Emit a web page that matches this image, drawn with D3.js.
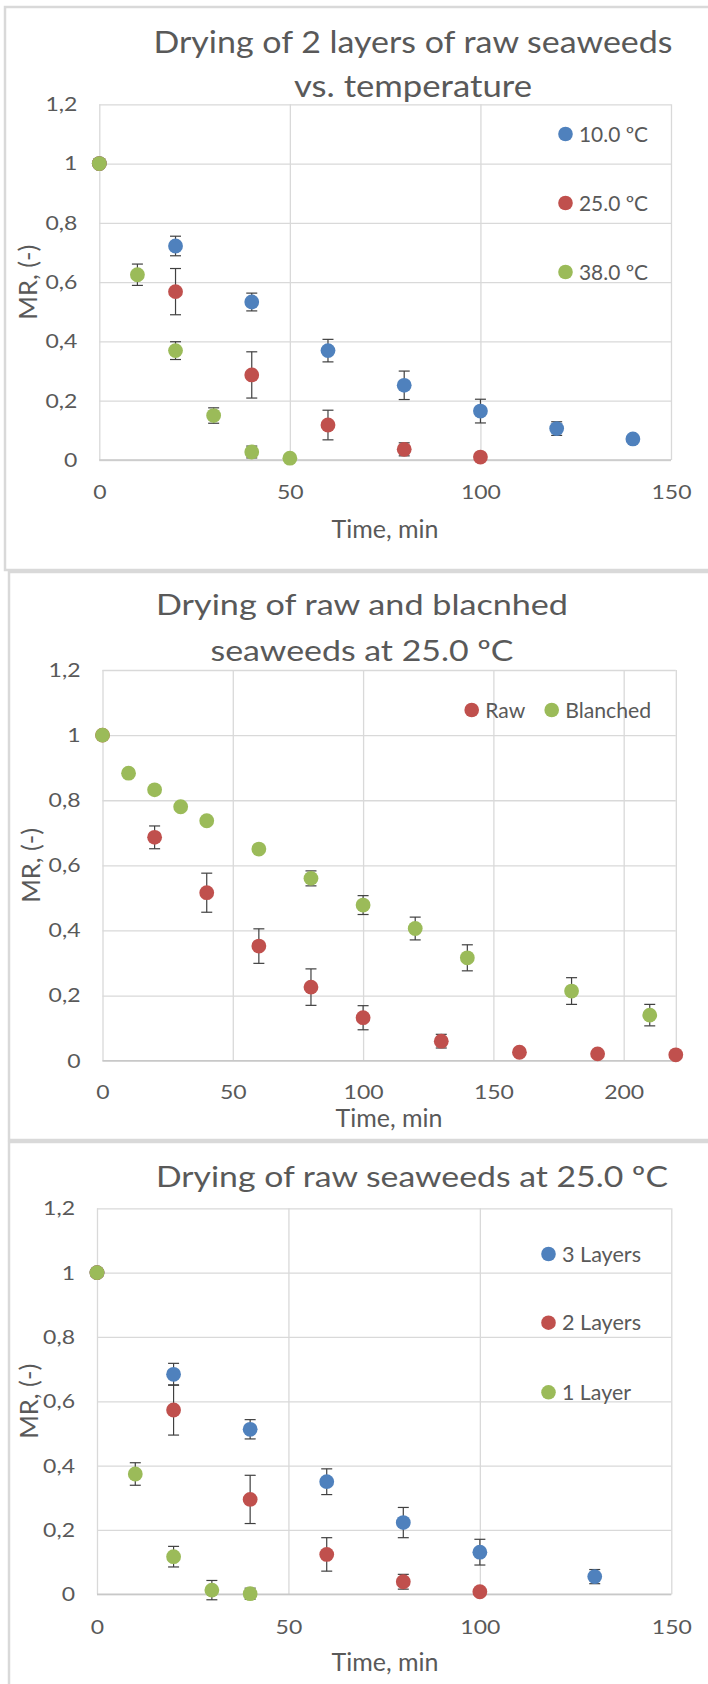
<!DOCTYPE html>
<html>
<head>
<meta charset="utf-8">
<script src="https://cdn.jsdelivr.net/npm/d3@7"></script>
<style>
  html, body { margin: 0; padding: 0; background: #ffffff; }
  svg { display: block; }
  text { font-family: Lato, "Open Sans", sans-serif; fill: #595959; }
</style>
</head>
<body>
<div id="chart"></div>
<script>
// ---- Panel 1: 2 layers of raw seaweeds at three temperatures ----
const t10 = [0, 20, 40, 60, 80, 100, 120, 140];
const mr10 = [1, 0.722, 0.533, 0.369, 0.252, 0.165, 0.106, 0.071];
const err10 = [0, 0.033, 0.03, 0.038, 0.048, 0.04, 0.023, 0];

const t25 = [0, 20, 40, 60, 80, 100];
const mr25 = [1, 0.568, 0.287, 0.118, 0.036, 0.01];
const err25 = [0, 0.078, 0.078, 0.05, 0.022, 0];

const t38 = [0, 10, 20, 30, 40, 50];
const mr38 = [1, 0.625, 0.369, 0.15, 0.027, 0.006];
const err38 = [0, 0.036, 0.03, 0.026, 0.02, 0];

// ---- Panel 2: raw vs blanched at 25.0 ºC ----
const tRaw = [0, 20, 40, 60, 80, 100, 130, 160, 190, 220];
const mrRaw = [1, 0.686, 0.516, 0.352, 0.226, 0.132, 0.06, 0.026, 0.021, 0.018];
const errRaw = [0, 0.035, 0.06, 0.053, 0.056, 0.037, 0.021, 0, 0, 0];

const tBlanched = [0, 10, 20, 30, 40, 60, 80, 100, 120, 140, 180, 210];
const mrBlanched = [1, 0.883, 0.832, 0.78, 0.737, 0.65, 0.56, 0.478, 0.406, 0.316, 0.214, 0.14];
const errBlanched = [0, 0, 0, 0, 0, 0.01, 0.023, 0.029, 0.035, 0.04, 0.041, 0.033];

// ---- Panel 3: raw seaweeds at 25.0 ºC, number of layers ----
const t3L = [0, 20, 40, 60, 80, 100, 130];
const mr3L = [1, 0.684, 0.513, 0.35, 0.223, 0.131, 0.055];
const err3L = [0, 0.034, 0.03, 0.04, 0.047, 0.04, 0.022];

const t2L = [0, 20, 40, 60, 80, 100];
const mr2L = [1, 0.573, 0.295, 0.124, 0.039, 0.008];
const err2L = [0, 0.078, 0.075, 0.052, 0.023, 0];

const t1L = [0, 10, 20, 30, 40];
const mr1L = [1, 0.374, 0.117, 0.013, 0.002];
const err1L = [0, 0.035, 0.032, 0.03, 0.017];

// ---- Axis ticks ----
const yTicks = [0, 0.2, 0.4, 0.6, 0.8, 1, 1.2];
const yTickLabels = ["0", "0,2", "0,4", "0,6", "0,8", "1", "1,2"];
const xTicks150 = [0, 50, 100, 150];
const xTicks220 = [0, 50, 100, 150, 200];

const BLUE = "#4f81bd", RED = "#c0504d", GREEN = "#9bbb59";
const GRID = "#d9d9d9";
const TICK_SIZE = 20, TICK_STRETCH = 1.15;

function zipSeries(t, v, e) {
  return t.map((d, i) => ({ t: d, v: v[i], e: e[i] }));
}

// stretch a text element to a given advance width
function fit(sel, w) {
  return sel.attr("textLength", w).attr("lengthAdjust", "spacingAndGlyphs");
}

const panels = [
  {
    frame: { x: 5, y: 7, h: 563 },
    plot: { left: 99.3, right: 671, top: 104.3, bottom: 460 },
    xMax: 150, xTicks: xTicks150,
    title: ["Drying of 2 layers of raw seaweeds", "vs. temperature"],
    titleX: 413, titleY: [53, 97], titleW: [519, 238], titleSize: 30,
    xTickY: 492, xTitleX: 385, xTitleY: 538, yTitleX: 28,
    series: [
      { name: "10.0 ºC", color: BLUE, data: zipSeries(t10, mr10, err10) },
      { name: "25.0 ºC", color: RED, data: zipSeries(t25, mr25, err25) },
      { name: "38.0 ºC", color: GREEN, data: zipSeries(t38, mr38, err38) }
    ],
    legend: [[565.5, 134], [565.5, 203], [565.5, 272]],
    legendW: [69, 69, 69]
  },
  {
    frame: { x: 9, y: 572, h: 568 },
    plot: { left: 102.5, right: 675.8, top: 670, bottom: 1060.7 },
    xMax: 220, xTicks: xTicks220,
    title: ["Drying of raw and blacnhed", "seaweeds at 25.0 ºC"],
    titleX: 362, titleY: [615, 660.5], titleW: [412, 303], titleSize: 29,
    xTickY: 1091.5, xTitleX: 389, xTitleY: 1127, yTitleX: 31,
    series: [
      { name: "Raw", color: RED, data: zipSeries(tRaw, mrRaw, errRaw) },
      { name: "Blanched", color: GREEN, data: zipSeries(tBlanched, mrBlanched, errBlanched) }
    ],
    legend: [[471.7, 710], [551.7, 710]],
    legendW: [40, 86]
  },
  {
    frame: { x: 9, y: 1142, h: 600 },
    plot: { left: 97, right: 671.3, top: 1208.3, bottom: 1594.3 },
    xMax: 150, xTicks: xTicks150,
    title: ["Drying of raw seaweeds at 25.0 ºC"],
    titleX: 412, titleY: [1186.7], titleW: [512], titleSize: 29,
    xTickY: 1626.7, xTitleX: 385, xTitleY: 1671, yTitleX: 29,
    series: [
      { name: "3 Layers", color: BLUE, data: zipSeries(t3L, mr3L, err3L) },
      { name: "2 Layers", color: RED, data: zipSeries(t2L, mr2L, err2L) },
      { name: "1 Layer", color: GREEN, data: zipSeries(t1L, mr1L, err1L) }
    ],
    legend: [[548.5, 1254], [548.5, 1322.7], [548.5, 1392.3]],
    legendW: [79, 79, 69]
  }
];

const svg = d3.select("#chart").append("svg")
  .attr("width", 708).attr("height", 1684);

panels.forEach(p => {
  const g = svg.append("g");

  // chart frame
  g.append("rect")
    .attr("x", p.frame.x).attr("y", p.frame.y)
    .attr("width", 760).attr("height", p.frame.h)
    .attr("fill", "#ffffff").attr("stroke", GRID).attr("stroke-width", 2.5);

  const x = d3.scaleLinear().domain([0, p.xMax]).range([p.plot.left, p.plot.right]);
  const y = d3.scaleLinear().domain([0, 1.2]).range([p.plot.bottom, p.plot.top]);
  const pw = p.plot.right - p.plot.left;
  const ph = p.plot.bottom - p.plot.top;

  // horizontal gridlines
  g.append("g")
    .attr("transform", `translate(${p.plot.left},0)`)
    .call(d3.axisLeft(y).tickValues(yTicks).tickSize(-pw).tickFormat(""))
    .call(a => a.select(".domain").remove())
    .call(a => a.selectAll("line").attr("stroke", GRID).attr("stroke-width", 1.3));

  // vertical gridlines (incl. plot edges)
  const vTicks = p.xTicks.concat(p.xMax % 50 ? [p.xMax] : []);
  g.append("g")
    .attr("transform", `translate(0,${p.plot.bottom})`)
    .call(d3.axisBottom(x).tickValues(vTicks).tickSize(-ph).tickFormat(""))
    .call(a => a.select(".domain").remove())
    .call(a => a.selectAll("line").attr("stroke", GRID).attr("stroke-width", 1.3));

  // horizontal axis line
  g.append("line")
    .attr("x1", p.plot.left).attr("x2", p.plot.right)
    .attr("y1", y(0)).attr("y2", y(0))
    .attr("stroke", "#c8c8c8").attr("stroke-width", 1.5);

  // y tick labels
  const yAxis = g.append("g")
    .attr("transform", `translate(${p.plot.left - 22},0)`)
    .call(d3.axisLeft(y).tickValues(yTicks).tickSize(0).tickPadding(0)
      .tickFormat((d, i) => yTickLabels[i]));
  yAxis.select(".domain").remove();
  yAxis.selectAll("text")
    .attr("font-family", "Lato").attr("font-size", TICK_SIZE).attr("fill", "#595959")
    .attr("transform", `scale(${TICK_STRETCH},1)`);

  // x tick labels
  const xAxis = g.append("g")
    .attr("transform", `translate(0,${p.xTickY})`)
    .call(d3.axisBottom(x).tickValues(p.xTicks).tickSize(0).tickPadding(0));
  xAxis.select(".domain").remove();
  xAxis.selectAll("text")
    .attr("font-family", "Lato").attr("font-size", TICK_SIZE).attr("fill", "#595959")
    .attr("dy", "0.35em")
    .attr("transform", `scale(${TICK_STRETCH},1)`);

  // chart title
  p.title.forEach((line, i) => {
    g.append("text")
      .attr("x", p.titleX - p.titleW[i] / 2).attr("y", p.titleY[i])
      .attr("font-size", p.titleSize)
      .text(line)
      .call(fit, p.titleW[i]);
  });

  // axis titles
  g.append("text")
    .attr("x", p.xTitleX - 53.5).attr("y", p.xTitleY)
    .attr("font-size", 24.5)
    .text("Time, min")
    .call(fit, 107);

  g.append("text")
    .attr("transform", `translate(${p.yTitleX},${(p.plot.top + p.plot.bottom) / 2}) rotate(-90)`)
    .attr("x", -37.5)
    .attr("dy", "0.35em")
    .attr("font-size", 24.5)
    .text("MR, (-)")
    .call(fit, 75);

  // error bars
  p.series.forEach(s => {
    const eb = g.append("g");
    s.data.filter(d => d.e > 0).forEach(d => {
      const yt = y(d.v + d.e), yb = y(d.v - d.e), cx = x(d.t);
      eb.append("line").attr("x1", cx).attr("x2", cx).attr("y1", yt).attr("y2", yb);
      eb.append("line").attr("x1", cx - 5.5).attr("x2", cx + 5.5).attr("y1", yt).attr("y2", yt);
      eb.append("line").attr("x1", cx - 5.5).attr("x2", cx + 5.5).attr("y1", yb).attr("y2", yb);
    });
    eb.selectAll("line").attr("stroke", "#404040").attr("stroke-width", 1.2);
  });

  // markers
  p.series.forEach(s => {
    g.append("g").selectAll("circle")
      .data(s.data).join("circle")
      .attr("cx", d => x(d.t)).attr("cy", d => y(d.v))
      .attr("r", 7.4).attr("fill", s.color);
  });

  // legend
  p.series.forEach((s, i) => {
    const [lx, ly] = p.legend[i];
    g.append("circle").attr("cx", lx).attr("cy", ly).attr("r", 7.3).attr("fill", s.color);
    g.append("text")
      .attr("x", lx + 13.5).attr("y", ly)
      .attr("dy", "0.36em")
      .attr("font-size", 21)
      .text(s.name)
      .call(fit, p.legendW[i]);
  });
});
</script>
</body>
</html>
